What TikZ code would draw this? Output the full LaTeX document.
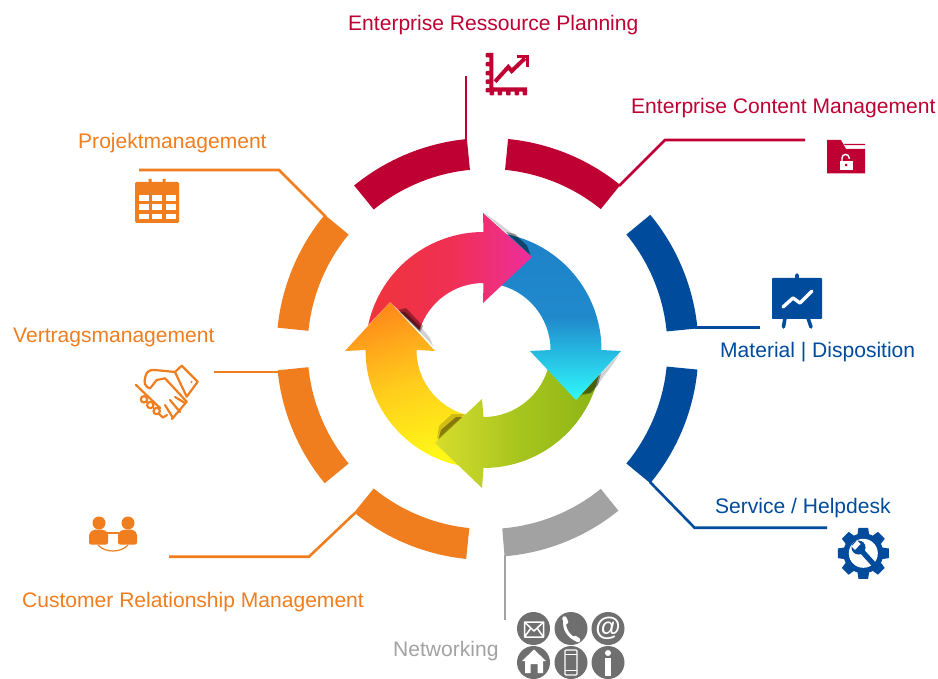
\documentclass[tikz,border=0pt]{standalone}
\usepackage{fontspec}
\setmainfont{Liberation Sans}
\definecolor{cred}{HTML}{BE0033}
\definecolor{cblue}{HTML}{004B9B}
\definecolor{corange}{HTML}{F07D1E}
\definecolor{cgray}{HTML}{A2A2A2}
\definecolor{cicon}{HTML}{6F6F6F}
\definecolor{ya}{HTML}{FF8C1A}
\definecolor{yb}{HTML}{FFCD1C}
\definecolor{yc}{HTML}{FFF816}
\definecolor{ga}{HTML}{D6DD2E}
\definecolor{gb}{HTML}{A8C51E}
\definecolor{gc}{HTML}{8CB414}
\definecolor{ba}{HTML}{1E82C8}
\definecolor{bb}{HTML}{2089CC}
\definecolor{bc}{HTML}{2FFAFC}
\definecolor{ra}{HTML}{F0343C}
\definecolor{rb}{HTML}{F03052}
\definecolor{rc}{HTML}{EE2E9C}
\tikzset{
  lab/.style={anchor=base west,inner sep=0pt,font=\fontsize{21.05}{24}\selectfont},
  conn/.style={line width=2.6pt,line join=miter},
  hs/.style={draw=corange,line width=2.2pt,line cap=round,line join=round,fill=none},
  wht/.style={draw=white,line width=1.5pt,line join=round,line cap=round},
  neticon/.style={circle,fill=cicon,minimum size=33pt,inner sep=0pt},
  shdark/.style={black,opacity=.36},
  shsoft/.style={black,opacity=.18},
}
% colour, start angle, end angle, outer radius
\newcommand{\ringseg}[4]{\fill[#1] ([shift={(#2:#4pt)}]R) arc[start angle=#2,end angle=#3,radius=#4pt] -- ([shift={(#3:180pt)}]R) arc[start angle=#3,end angle=#2,radius=180pt] -- cycle;}
\begin{document}
\begin{tikzpicture}[x=1pt,y=-1pt]
\useasboundingbox (0,0) rectangle (938,679);
\coordinate (R) at (487.5,349);
\coordinate (A) at (483.5,350);
% ring
\ringseg{cred}{95.6}{129.2}{211}
\ringseg{cred}{84.4}{51}{211}
\ringseg{cblue}{39.5}{5.6}{211}
\ringseg{cblue}{-5.6}{-39.5}{211}
\ringseg{cgray}{-51}{-85.3}{208}
\ringseg{corange}{-95.8}{-129.2}{211}
\ringseg{corange}{-140.5}{-174.2}{211}
\ringseg{corange}{174.2}{140.5}{211}
% labels
\node[lab,text=cred] (erp) at (348,31) {Enterprise Ressource Planning};
\node[lab,text=cred] (ecm) at (631,114) {Enterprise Content Management};
\node[lab,text=cblue] (mat) at (720,357) {Material | Disposition};
\node[lab,text=cblue] (svc) at (715,513) {Service / Helpdesk};
\node[lab,text=cgray] (net) at (393,656) {Networking};
\node[lab,text=corange] (crm) at (22,607) {Customer Relationship Management};
\node[lab,text=corange] (vtr) at (13,342) {Vertragsmanagement};
\node[lab,text=corange] (prj) at (78,149) {Projektmanagement};
% connector anchors
\coordinate (a1) at (466,142); \coordinate (b1) at (466,76);
\coordinate (a2) at (619,186); \coordinate (k2) at (665,140); \coordinate (b2) at (805,140);
\coordinate (a3) at (695,327.7); \coordinate (b3) at (760,327.7);
\coordinate (a4) at (650,482); \coordinate (k4) at (694.5,527.7); \coordinate (b4) at (827,527.7);
\coordinate (a5) at (505,555); \coordinate (b5) at (505,620);
\coordinate (a6) at (355,513); \coordinate (k6) at (309,556.7); \coordinate (b6) at (169,556.7);
\coordinate (a7) at (279,372); \coordinate (b7) at (214,372);
\coordinate (a8) at (326,217); \coordinate (k8) at (279,170); \coordinate (b8) at (139,170);
\draw[conn,cred] (a1) -- (b1);
\draw[conn,cred] (a2) -- (k2) -- (b2);
\draw[conn,cblue] (a3) -- (b3);
\draw[conn,cblue] (a4) -- (k4) -- (b4);
\draw[conn,cgray] (a5) -- (b5);
\draw[conn,corange] (a6) -- (k6) -- (b6);
\draw[conn,corange] (a7) -- (b7);
\draw[conn,corange] (a8) -- (k8) -- (b8);
% central arrows
\shade[top color=ya,bottom color=yc,middle color=yb,shading angle=18]
  ([shift={(180:118pt)}]A) arc[start angle=180,end angle=262,radius=118pt] -- ([shift={(262:67pt)}]A) arc[start angle=262,end angle=180,radius=67pt] -- (435,351) -- (390,302) -- (345,351) -- cycle;
\fill[shdark] (438,441) -- (463,417) -- (456,417) -- (441,430) -- cycle;
\fill[shsoft] (437,439) -- (465,414) -- (452,414) -- (439,426) -- cycle;
\shade[left color=ga,right color=gc,middle color=gb]
  ([shift={(-10:118pt)}]A) arc[start angle=-10,end angle=-90,radius=118pt] -- (482,488) -- (435,443) -- (482,399) -- ([shift={(-90:67pt)}]A) arc[start angle=-90,end angle=-10,radius=67pt] -- cycle;
\fill[shdark] (582,394) -- (601,373) -- (598,385) -- (590,393) -- cycle;
\fill[shsoft] (580,396) -- (620,353) -- (613,364) -- (604,376) -- (592,393) -- cycle;
\shade[top color=ba,bottom color=bc,middle color=bb]
  ([shift={(80:118pt)}]A) arc[start angle=80,end angle=0,radius=118pt] -- (621,351) -- (576,400) -- (530,351) -- ([shift={(0:67pt)}]A) arc[start angle=0,end angle=80,radius=67pt] -- cycle;
\fill[shdark] (506,232) -- (530,255) -- (527,246) -- (515,234) -- cycle;
\fill[shsoft] (483,212) -- (531,255) -- (527,245) -- (513,234) -- (497,222) -- cycle;
\shade[left color=ra,right color=rc,middle color=rb]
  ([shift={(167.8:118pt)}]A) -- (390,302) -- ([shift={(162.5:67pt)}]A) arc[start angle=162.5,end angle=90,radius=67pt] -- (483,303) -- (532,257) -- (483,213) -- ([shift={(90:118pt)}]A) arc[start angle=90,end angle=167.8,radius=118pt] -- cycle;
\fill[shdark] (398,310) -- (420,332) -- (423,326) -- (406,308) -- cycle;
\fill[shdark] (400,312) -- (419,331) -- (420,327) -- (405,312) -- cycle;
\fill[shsoft] (419,331) -- (433,346) -- (430,338) -- (421,327) -- cycle;
% ERP chart icon
\fill[cred] (489.3,53) rectangle (493.3,91.7) (489.3,87.3) rectangle (527,91.7);
\foreach \y in {53,62,71,79.5,88} {\fill[cred,rounded corners=.8pt] (485.7,\y) rectangle (491,\y+4.5);}
\foreach \x in {489.5,497.7,506,514.5,522.5} {\fill[cred,rounded corners=.8pt] (\x,89) rectangle (\x+4.5,95.3);}
\draw[cred,line width=4pt,line join=miter] (495,81.7) -- (508.3,67) -- (511.7,71) -- (525,58.3);
\draw[cred,line width=3.2pt,line join=miter] (517,56.6) -- (527.4,56.6) -- (527.4,67);
% ECM folder
\fill[cred] (827,140) -- (841,140) -- (846,149) -- (865,149) -- (865,173.5) -- (827,173.5) -- cycle;
\fill[cred] (844,144) -- (865,144) -- (865,145.2) -- (845,145.2) -- cycle;
\fill[white] (839.5,161) rectangle (852.5,170);
\draw[white,line width=1.4pt] (842,161) -- (842,158) arc[start angle=180,end angle=0,radius=3.6pt] -- (849.2,159);
\fill[cred] (846,165) circle[radius=1.5pt];
% board
\fill[cblue,rounded corners=.8pt] (772,278) rectangle (822,319);
\draw[cblue,line width=3.6pt,line cap=round] (797,275) -- (797,279) (785,318) -- (783.5,327) (808,318) -- (811,327);
\draw[white,line width=3.4pt,line cap=round,line join=round] (783,307) -- (793,298) -- (800,303) -- (812,291);
% gear
\fill[cblue] (863.3,553.3) circle[radius=20pt];
\foreach \a in {0,45,...,315} {\fill[cblue,rotate around={\a:(863.3,553.3)}] (858.5,527.8) -- (868.1,527.8) -- (870,540) -- (856.6,540) -- cycle;}
\fill[white] (863.3,553.3) circle[radius=14.5pt];
\draw[cblue,line width=5.2pt] (859,548) -- (878,569);
\fill[cblue] (858.5,547.5) circle[radius=7pt];
\fill[white] (851.5,546.5) -- (857,540.5) -- (860.5,544) -- (855,550) -- cycle;
% calendar
\fill[corange,rounded corners=1.5pt] (135,182) rectangle (179,223);
\fill[corange] (148.5,179) rectangle (151.5,186) (162.5,179) rectangle (165.5,186);
\foreach \x in {139,152.3,166} {\foreach \y in {195,204.3,213.7} {\fill[white] (\x,\y) rectangle (\x+10,\y+5.7);}}
% handshake
\draw[hs] (175,372) -- (181.7,365.7) -- (197.7,381.7) -- (186.7,396.7) -- cycle;
\fill[corange] (191.5,382) circle[radius=1.1pt];
\draw[hs] (175,372) -- (155,370) .. controls (149,369.5) and (146,372) .. (145,378) .. controls (143.5,384) and (146,387) .. (150,388.5) -- (156.7,380) -- (165,378.3) -- (186.7,401.7) -- (172,419);
\draw[hs] (136,385) -- (160,408);
\draw[hs] (144,399.3) circle[radius=3.2pt] (150.3,405) circle[radius=3.2pt] (156.7,411) circle[radius=3.2pt];
\draw[hs] (159,414) -- (163,417.5) -- (167,415);
\draw[hs] (165,405) -- (173,418);
\draw[hs] (170,400) -- (180,412);
\draw[hs] (175,397) -- (185,403);
% people
\fill[corange] (99,523) circle[radius=6.5pt] (128,523) circle[radius=6.5pt];
\fill[corange,rounded corners=2pt] (89,544.5) -- (89,533) -- (94,529.5) -- (104,529.5) -- (108,533) -- (108,544.5) -- cycle;
\fill[corange,rounded corners=2pt] (118,544.5) -- (118,533) -- (123,529.5) -- (133,529.5) -- (137,533) -- (137,544.5) -- cycle;
\draw[corange,line width=1.2pt] (98,545) .. controls (105,553) and (121,553) .. (128,545);
\draw[corange,line width=1.2pt] (107,533) -- (119,533);
% network icons
\node[neticon] (n1) at (533.5,628.5) {};
\node[neticon] (n2) at (571,628.5) {};
\node[neticon] (n3) at (608,628.5) {};
\node[neticon] (n4) at (533.5,662.5) {};
\node[neticon] (n5) at (571,662.5) {};
\node[neticon] (n6) at (608,662.5) {};
\draw[wht] (524.5,622) rectangle (543.5,637) (524.5,622) -- (534,631) -- (543.5,622) (524.5,637) -- (531,628) (543.5,637) -- (537,628);
\draw[white,line width=3pt,line cap=round] (565,620) .. controls (563,629) and (569,637) .. (577,640);
\draw[white,line width=4.5pt,line cap=round] (564.5,618.5) -- (566,622) (575,638) -- (578,640);
\node[inner sep=0pt,text=white,font=\fontsize{26}{26}\selectfont\bfseries] (at) at (608,628) {@};
\fill[white] (534,649.5) -- (546,661) -- (543,661) -- (543,673) -- (537.5,673) -- (537.5,664) -- (530.5,664) -- (530.5,673) -- (525,673) -- (525,661) -- (522,661) -- cycle;
\draw[white,line width=1.4pt,rounded corners=1pt] (565,650) rectangle (577,675);
\draw[white,line width=1pt] (565,654) -- (577,654) (565,670) -- (577,670);
\fill[white] (608,653) circle[radius=3pt];
\fill[white] (605,658) rectangle (611,676);
\end{tikzpicture}
\end{document}
